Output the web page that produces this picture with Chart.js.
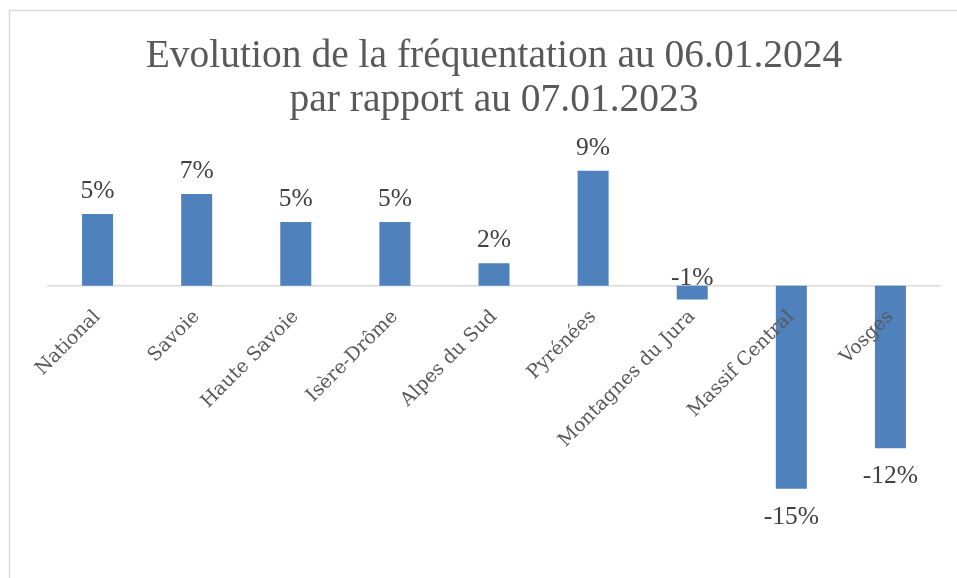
<!DOCTYPE html>
<html>
<head>
<meta charset="utf-8">
<script src="https://cdn.jsdelivr.net/npm/chart.js@4"></script>
<style>
  html, body { margin: 0; padding: 0; background: #fff; }
  #wrap { width: 957px; height: 578px; }
</style>
</head>
<body>
<div id="wrap"><canvas id="evolutionChart"></canvas></div>
<script>
const regions = ['National', 'Savoie', 'Haute Savoie', 'Isère-Drôme', 'Alpes du Sud',
  'Pyrénées', 'Montagnes du Jura', 'Massif Central', 'Vosges'];
const evolution = [5.4, 6.9, 4.8, 4.8, 1.7, 8.65, -1.03, -15.25, -12.2];
const chartTitle = ['Evolution de la fréquentation au 06.01.2024', 'par rapport au 07.01.2023'];

// frame around the chart like the office export
const framePlugin = {
  id: 'frame',
  beforeDraw(chart) {
    const ctx = chart.ctx;
    ctx.save();
    ctx.strokeStyle = '#d9d9d9';
    ctx.lineWidth = 1.5;
    ctx.strokeRect(9.5, 10.5, chart.width + 20, chart.height + 20);
    ctx.restore();
  }
};

// value labels, above positive bars and below negative ones
const valueLabels = {
  id: 'valueLabels',
  afterDatasetsDraw(chart) {
    const ctx = chart.ctx;
    const meta = chart.getDatasetMeta(0);
    const zero = chart.scales.y.getPixelForValue(0);
    ctx.save();
    ctx.font = '25.5px "Liberation Serif"';
    ctx.fillStyle = '#404040';
    ctx.textAlign = 'center';
    ctx.textBaseline = 'alphabetic';
    meta.data.forEach((bar, i) => {
      const v = evolution[i];
      const txt = Math.round(v) + '%';
      let y;
      if (v >= 0) y = bar.y - 16;
      else if (v > -2) y = zero - 1;
      else y = bar.y + 35;
      ctx.fillText(txt, bar.x, y);
    });
    ctx.restore();
  }
};

new Chart(document.getElementById('evolutionChart'), {
  type: 'bar',
  data: {
    labels: regions,
    datasets: [{
      data: evolution,
      backgroundColor: '#4f81bd',
      borderWidth: 0,
      categoryPercentage: 1,
      barPercentage: 0.313
    }]
  },
  options: {
    responsive: true,
    maintainAspectRatio: false,
    animation: false,
    layout: { padding: { left: 48, right: 17, top: 0, bottom: 26 } },
    plugins: {
      legend: { display: false },
      tooltip: { enabled: false },
      title: {
        display: true,
        text: chartTitle,
        color: '#595959',
        font: { family: 'Liberation Serif', size: 39.5, weight: 'normal', lineHeight: 1.11 },
        padding: { top: 35, bottom: 30 }
      }
    },
    scales: {
      x: {
        position: { y: 0 },
        grid: { display: false, drawTicks: false },
        border: { display: true, color: '#d9d9d9', width: 1.5 },
        ticks: {
          z: 1,
          color: '#595959',
          font: { family: '"DejaVu Serif"', size: 19 },
          minRotation: 45,
          maxRotation: 45,
          padding: 20,
          autoSkip: false
        }
      },
      y: {
        display: false,
        min: -20,
        max: 10
      }
    }
  },
  plugins: [framePlugin, valueLabels]
});
</script>
</body>
</html>
